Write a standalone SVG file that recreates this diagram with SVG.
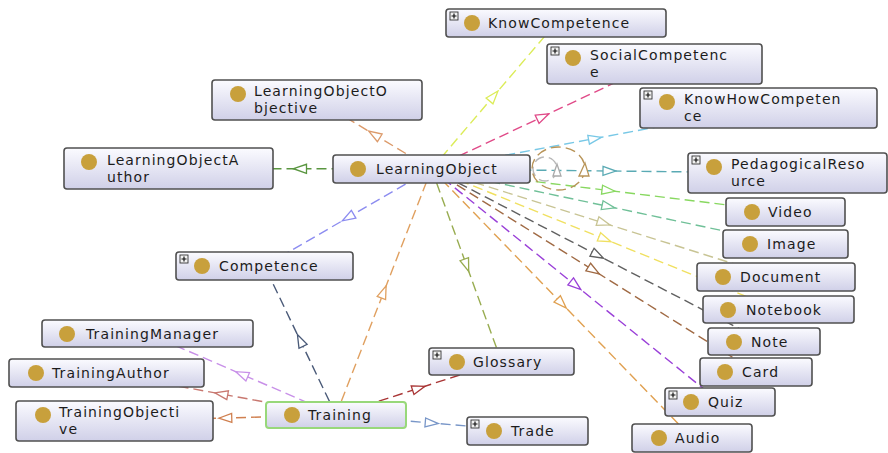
<svg xmlns="http://www.w3.org/2000/svg" width="888" height="453" viewBox="0 0 888 453">
<defs>
<linearGradient id="nodeFill" x1="0" y1="0" x2="0" y2="1">
<stop offset="0" stop-color="#fbfbff"/>
<stop offset="1" stop-color="#d0d0e8"/>
</linearGradient>
<marker id="m1" viewBox="-8 -6 16 12" markerWidth="16" markerHeight="12" refX="0" refY="0" orient="auto" markerUnits="userSpaceOnUse"><path d="M-6.5,-4.5 L6.5,0 L-6.5,4.5 Z" fill="#fff" stroke="#dc9a6a" stroke-width="1.3"/></marker>
<marker id="m2" viewBox="-8 -6 16 12" markerWidth="16" markerHeight="12" refX="0" refY="0" orient="auto" markerUnits="userSpaceOnUse"><path d="M-6.5,-4.5 L6.5,0 L-6.5,4.5 Z" fill="#fff" stroke="#5a9640" stroke-width="1.3"/></marker>
<marker id="m3" viewBox="-8 -6 16 12" markerWidth="16" markerHeight="12" refX="0" refY="0" orient="auto" markerUnits="userSpaceOnUse"><path d="M-6.5,-4.5 L6.5,0 L-6.5,4.5 Z" fill="#fff" stroke="#8c8cf0" stroke-width="1.3"/></marker>
<marker id="m4" viewBox="-8 -6 16 12" markerWidth="16" markerHeight="12" refX="0" refY="0" orient="auto" markerUnits="userSpaceOnUse"><path d="M-6.5,-4.5 L6.5,0 L-6.5,4.5 Z" fill="#fff" stroke="#dcec58" stroke-width="1.3"/></marker>
<marker id="m5" viewBox="-8 -6 16 12" markerWidth="16" markerHeight="12" refX="0" refY="0" orient="auto" markerUnits="userSpaceOnUse"><path d="M-6.5,-4.5 L6.5,0 L-6.5,4.5 Z" fill="#fff" stroke="#e04a88" stroke-width="1.3"/></marker>
<marker id="m6" viewBox="-8 -6 16 12" markerWidth="16" markerHeight="12" refX="0" refY="0" orient="auto" markerUnits="userSpaceOnUse"><path d="M-6.5,-4.5 L6.5,0 L-6.5,4.5 Z" fill="#fff" stroke="#78c8e6" stroke-width="1.3"/></marker>
<marker id="m7" viewBox="-8 -6 16 12" markerWidth="16" markerHeight="12" refX="0" refY="0" orient="auto" markerUnits="userSpaceOnUse"><path d="M-6.5,-4.5 L6.5,0 L-6.5,4.5 Z" fill="#fff" stroke="#5aaab4" stroke-width="1.3"/></marker>
<marker id="m8" viewBox="-8 -6 16 12" markerWidth="16" markerHeight="12" refX="0" refY="0" orient="auto" markerUnits="userSpaceOnUse"><path d="M-6.5,-4.5 L6.5,0 L-6.5,4.5 Z" fill="#fff" stroke="#88d860" stroke-width="1.3"/></marker>
<marker id="m9" viewBox="-8 -6 16 12" markerWidth="16" markerHeight="12" refX="0" refY="0" orient="auto" markerUnits="userSpaceOnUse"><path d="M-6.5,-4.5 L6.5,0 L-6.5,4.5 Z" fill="#fff" stroke="#70c098" stroke-width="1.3"/></marker>
<marker id="m10" viewBox="-8 -6 16 12" markerWidth="16" markerHeight="12" refX="0" refY="0" orient="auto" markerUnits="userSpaceOnUse"><path d="M-6.5,-4.5 L6.5,0 L-6.5,4.5 Z" fill="#fff" stroke="#c8c494" stroke-width="1.3"/></marker>
<marker id="m11" viewBox="-8 -6 16 12" markerWidth="16" markerHeight="12" refX="0" refY="0" orient="auto" markerUnits="userSpaceOnUse"><path d="M-6.5,-4.5 L6.5,0 L-6.5,4.5 Z" fill="#fff" stroke="#f0e060" stroke-width="1.3"/></marker>
<marker id="m12" viewBox="-8 -6 16 12" markerWidth="16" markerHeight="12" refX="0" refY="0" orient="auto" markerUnits="userSpaceOnUse"><path d="M-6.5,-4.5 L6.5,0 L-6.5,4.5 Z" fill="#fff" stroke="#606060" stroke-width="1.3"/></marker>
<marker id="m13" viewBox="-8 -6 16 12" markerWidth="16" markerHeight="12" refX="0" refY="0" orient="auto" markerUnits="userSpaceOnUse"><path d="M-6.5,-4.5 L6.5,0 L-6.5,4.5 Z" fill="#fff" stroke="#a06a44" stroke-width="1.3"/></marker>
<marker id="m14" viewBox="-8 -6 16 12" markerWidth="16" markerHeight="12" refX="0" refY="0" orient="auto" markerUnits="userSpaceOnUse"><path d="M-6.5,-4.5 L6.5,0 L-6.5,4.5 Z" fill="#fff" stroke="#9a40d8" stroke-width="1.3"/></marker>
<marker id="m15" viewBox="-8 -6 16 12" markerWidth="16" markerHeight="12" refX="0" refY="0" orient="auto" markerUnits="userSpaceOnUse"><path d="M-6.5,-4.5 L6.5,0 L-6.5,4.5 Z" fill="#fff" stroke="#e0a050" stroke-width="1.3"/></marker>
<marker id="m16" viewBox="-8 -6 16 12" markerWidth="16" markerHeight="12" refX="0" refY="0" orient="auto" markerUnits="userSpaceOnUse"><path d="M-6.5,-4.5 L6.5,0 L-6.5,4.5 Z" fill="#fff" stroke="#98ac50" stroke-width="1.3"/></marker>
<marker id="m17" viewBox="-8 -6 16 12" markerWidth="16" markerHeight="12" refX="0" refY="0" orient="auto" markerUnits="userSpaceOnUse"><path d="M-6.5,-4.5 L6.5,0 L-6.5,4.5 Z" fill="#fff" stroke="#e0a060" stroke-width="1.3"/></marker>
<marker id="m18" viewBox="-8 -6 16 12" markerWidth="16" markerHeight="12" refX="0" refY="0" orient="auto" markerUnits="userSpaceOnUse"><path d="M-6.5,-4.5 L6.5,0 L-6.5,4.5 Z" fill="#fff" stroke="#c890e8" stroke-width="1.3"/></marker>
<marker id="m19" viewBox="-8 -6 16 12" markerWidth="16" markerHeight="12" refX="0" refY="0" orient="auto" markerUnits="userSpaceOnUse"><path d="M-6.5,-4.5 L6.5,0 L-6.5,4.5 Z" fill="#fff" stroke="#c87870" stroke-width="1.3"/></marker>
<marker id="m20" viewBox="-8 -6 16 12" markerWidth="16" markerHeight="12" refX="0" refY="0" orient="auto" markerUnits="userSpaceOnUse"><path d="M-6.5,-4.5 L6.5,0 L-6.5,4.5 Z" fill="#fff" stroke="#d08050" stroke-width="1.3"/></marker>
<marker id="m21" viewBox="-8 -6 16 12" markerWidth="16" markerHeight="12" refX="0" refY="0" orient="auto" markerUnits="userSpaceOnUse"><path d="M-6.5,-4.5 L6.5,0 L-6.5,4.5 Z" fill="#fff" stroke="#a83434" stroke-width="1.3"/></marker>
<marker id="m22" viewBox="-8 -6 16 12" markerWidth="16" markerHeight="12" refX="0" refY="0" orient="auto" markerUnits="userSpaceOnUse"><path d="M-6.5,-4.5 L6.5,0 L-6.5,4.5 Z" fill="#fff" stroke="#7896c8" stroke-width="1.3"/></marker>
<marker id="m23" viewBox="-8 -6 16 12" markerWidth="16" markerHeight="12" refX="0" refY="0" orient="auto" markerUnits="userSpaceOnUse"><path d="M-6.5,-4.5 L6.5,0 L-6.5,4.5 Z" fill="#fff" stroke="#4a5a78" stroke-width="1.3"/></marker>
</defs>
<style>
.edge{fill:none;stroke-width:1.4;stroke-dasharray:10 5}
.box{fill:url(#nodeFill);stroke:#505050;stroke-width:1.6}
.sel{fill:url(#nodeFill);stroke:#98d87a;stroke-width:2}
.dot{fill:#c8a03c}
.lbl{font-family:"DejaVu Sans",Verdana,sans-serif;font-size:14px;letter-spacing:1.1px;fill:#1c1c1c}
.ico{fill:#f2f2f2;stroke:#333;stroke-width:0.9}
.plus{stroke:#111;stroke-width:1.2}
</style>
<rect width="888" height="453" fill="#ffffff"/>
<g id="connectors">
<polyline class="edge" stroke="#dc9a6a" marker-mid="url(#m1)" points="431.5,169 374.25,134.5 317,100"/>
<polyline class="edge" stroke="#5a9640" marker-mid="url(#m2)" points="431.5,169 300,168.75 168.5,168.5"/>
<polyline class="edge" stroke="#8c8cf0" marker-mid="url(#m3)" points="431.5,169 348,217.5 264.5,266"/>
<polyline class="edge" stroke="#dcec58" marker-mid="url(#m4)" points="431.5,169 493.75,96 556,23"/>
<polyline class="edge" stroke="#e04a88" marker-mid="url(#m5)" points="431.5,169 543,116.5 654.5,64"/>
<polyline class="edge" stroke="#78c8e6" marker-mid="url(#m6)" points="431.5,169 595,138.5 758.5,108"/>
<polyline class="edge" stroke="#5aaab4" marker-mid="url(#m7)" points="431.5,169 609.5,171 787.5,173"/>
<polyline class="edge" stroke="#88d860" marker-mid="url(#m8)" points="431.5,169 608.5,190.5 785.5,212"/>
<polyline class="edge" stroke="#70c098" marker-mid="url(#m9)" points="431.5,169 608.5,206.5 785.5,244"/>
<polyline class="edge" stroke="#c8c494" marker-mid="url(#m10)" points="431.5,169 603.75,223 776,277"/>
<polyline class="edge" stroke="#f0e060" marker-mid="url(#m11)" points="431.5,169 605,239.25 778.5,309.5"/>
<polyline class="edge" stroke="#606060" marker-mid="url(#m12)" points="431.5,169 597.75,255.25 764,341.5"/>
<polyline class="edge" stroke="#a06a44" marker-mid="url(#m13)" points="431.5,169 593.75,270.5 756,372"/>
<polyline class="edge" stroke="#9a40d8" marker-mid="url(#m14)" points="431.5,169 575.75,285.5 720,402"/>
<polyline class="edge" stroke="#e0a050" marker-mid="url(#m15)" points="431.5,169 561.75,303.5 692,438"/>
<polyline class="edge" stroke="#98ac50" marker-mid="url(#m16)" points="431.5,169 466.5,265.25 501.5,361.5"/>
<polyline class="edge" stroke="#e0a060" marker-mid="url(#m17)" points="336,415 383.75,292 431.5,169"/>
<polyline class="edge" stroke="#c890e8" marker-mid="url(#m18)" points="336,415 241.75,374.25 147.5,333.5"/>
<polyline class="edge" stroke="#c87870" marker-mid="url(#m19)" points="336,415 221.25,394 106.5,373"/>
<polyline class="edge" stroke="#d08050" marker-mid="url(#m20)" points="336,415 225.25,418 114.5,421"/>
<polyline class="edge" stroke="#a83434" marker-mid="url(#m21)" points="336,415 418.75,388.25 501.5,361.5"/>
<polyline class="edge" stroke="#7896c8" marker-mid="url(#m22)" points="336,415 431.75,423 527.5,431"/>
<polyline class="edge" stroke="#4a5a78" marker-mid="url(#m23)" points="336,415 300.25,340.5 264.5,266"/>
<circle class="edge" stroke="#b8b8b8" cx="545" cy="169" r="12"/>
<path d="M553,176 L557,164 L561,176 Z" fill="#fff" stroke="#aaaaaa" stroke-width="1.3"/>
<ellipse class="edge" stroke="#b89458" cx="558.5" cy="168.5" rx="26.5" ry="21.5"/>
<path d="M579,176 L585,163 L589,176 Z" fill="#fff" stroke="#b89458" stroke-width="1.3"/>
</g>
<g id="KnowCompetence">
<rect class="box" x="446" y="9" width="220" height="28" rx="3"/>
<rect class="ico" x="450" y="12" width="8" height="8"/><path class="plus" d="M451.5,16 H456.5 M454,13.5 V18.5"/>
<circle class="dot" cx="472" cy="23" r="8"/>
<text class="lbl" x="488" y="28">KnowCompetence</text>
</g>
<g id="SocialCompetence">
<rect class="box" x="547" y="44" width="215" height="40" rx="3"/>
<rect class="ico" x="551" y="47" width="8" height="8"/><path class="plus" d="M552.5,51 H557.5 M555,48.5 V53.5"/>
<circle class="dot" cx="573" cy="58" r="8"/>
<text class="lbl" x="590" y="60">SocialCompetenc<tspan x="590" dy="16.5">e</tspan></text>
</g>
<g id="KnowHowCompetence">
<rect class="box" x="640" y="88" width="237" height="40" rx="3"/>
<rect class="ico" x="644" y="91" width="8" height="8"/><path class="plus" d="M645.5,95 H650.5 M648,92.5 V97.5"/>
<circle class="dot" cx="667" cy="102" r="8"/>
<text class="lbl" x="684" y="104">KnowHowCompeten<tspan x="684" dy="16.5">ce</tspan></text>
</g>
<g id="PedagogicalResource">
<rect class="box" x="688" y="153" width="199" height="40" rx="3"/>
<rect class="ico" x="692" y="156" width="8" height="8"/><path class="plus" d="M693.5,160 H698.5 M696,157.5 V162.5"/>
<circle class="dot" cx="714" cy="167" r="8"/>
<text class="lbl" x="731" y="169">PedagogicalReso<tspan x="731" dy="16.5">urce</tspan></text>
</g>
<g id="LearningObjectObjective">
<rect class="box" x="212" y="80" width="210" height="40" rx="3"/>
<circle class="dot" cx="238" cy="94" r="8"/>
<text class="lbl" x="254" y="96">LearningObjectO<tspan x="254" dy="16.5">bjective</tspan></text>
</g>
<g id="LearningObjectAuthor">
<rect class="box" x="64" y="148" width="209" height="41" rx="3"/>
<circle class="dot" cx="89" cy="162" r="8"/>
<text class="lbl" x="107" y="165">LearningObjectA<tspan x="107" dy="16.5">uthor</tspan></text>
</g>
<g id="LearningObject">
<rect class="box" x="333" y="155" width="197" height="28" rx="3"/>
<circle class="dot" cx="358" cy="169" r="8"/>
<text class="lbl" x="376" y="174">LearningObject</text>
</g>
<g id="Competence">
<rect class="box" x="176" y="252" width="177" height="28" rx="3"/>
<rect class="ico" x="180" y="255" width="8" height="8"/><path class="plus" d="M181.5,259 H186.5 M184,256.5 V261.5"/>
<circle class="dot" cx="202" cy="266" r="8"/>
<text class="lbl" x="219" y="271">Competence</text>
</g>
<g id="Video">
<rect class="box" x="726" y="198" width="119" height="28" rx="3"/>
<circle class="dot" cx="752" cy="212" r="8"/>
<text class="lbl" x="768" y="217">Video</text>
</g>
<g id="Image">
<rect class="box" x="723" y="230" width="125" height="28" rx="3"/>
<circle class="dot" cx="750" cy="244" r="8"/>
<text class="lbl" x="767" y="249">Image</text>
</g>
<g id="Document">
<rect class="box" x="697" y="263" width="158" height="28" rx="3"/>
<circle class="dot" cx="723" cy="277" r="8"/>
<text class="lbl" x="740" y="282">Document</text>
</g>
<g id="Notebook">
<rect class="box" x="703" y="296" width="151" height="27" rx="3"/>
<circle class="dot" cx="728" cy="310" r="8"/>
<text class="lbl" x="746" y="315">Notebook</text>
</g>
<g id="Note">
<rect class="box" x="708" y="328" width="112" height="27" rx="3"/>
<circle class="dot" cx="734" cy="342" r="8"/>
<text class="lbl" x="751" y="347">Note</text>
</g>
<g id="Card">
<rect class="box" x="700" y="358" width="112" height="28" rx="3"/>
<circle class="dot" cx="725" cy="372" r="8"/>
<text class="lbl" x="742" y="377">Card</text>
</g>
<g id="Quiz">
<rect class="box" x="665" y="388" width="110" height="28" rx="3"/>
<rect class="ico" x="669" y="391" width="8" height="8"/><path class="plus" d="M670.5,395 H675.5 M673,392.5 V397.5"/>
<circle class="dot" cx="691" cy="402" r="8"/>
<text class="lbl" x="708" y="407">Quiz</text>
</g>
<g id="Audio">
<rect class="box" x="632" y="424" width="120" height="28" rx="3"/>
<circle class="dot" cx="659" cy="438" r="8"/>
<text class="lbl" x="675" y="443">Audio</text>
</g>
<g id="Glossary">
<rect class="box" x="429" y="348" width="145" height="27" rx="3"/>
<rect class="ico" x="433" y="351" width="8" height="8"/><path class="plus" d="M434.5,355 H439.5 M437,352.5 V357.5"/>
<circle class="dot" cx="457" cy="362" r="8"/>
<text class="lbl" x="473" y="367">Glossary</text>
</g>
<g id="Trade">
<rect class="box" x="467" y="417" width="121" height="28" rx="3"/>
<rect class="ico" x="471" y="420" width="8" height="8"/><path class="plus" d="M472.5,424 H477.5 M475,421.5 V426.5"/>
<circle class="dot" cx="494" cy="431" r="8"/>
<text class="lbl" x="511" y="436">Trade</text>
</g>
<g id="Training">
<rect class="sel" x="266" y="402" width="140" height="26" rx="3"/>
<circle class="dot" cx="292" cy="415" r="8"/>
<text class="lbl" x="308" y="420">Training</text>
</g>
<g id="TrainingManager">
<rect class="box" x="42" y="320" width="211" height="27" rx="3"/>
<circle class="dot" cx="67" cy="334" r="8"/>
<text class="lbl" x="86" y="339">TrainingManager</text>
</g>
<g id="TrainingAuthor">
<rect class="box" x="9" y="359" width="195" height="28" rx="3"/>
<circle class="dot" cx="36" cy="373" r="8"/>
<text class="lbl" x="52" y="378">TrainingAuthor</text>
</g>
<g id="TrainingObjective">
<rect class="box" x="16" y="401" width="197" height="40" rx="3"/>
<circle class="dot" cx="43" cy="415" r="8"/>
<text class="lbl" x="59" y="417">TrainingObjecti<tspan x="59" dy="16.5">ve</tspan></text>
</g>
</svg>
